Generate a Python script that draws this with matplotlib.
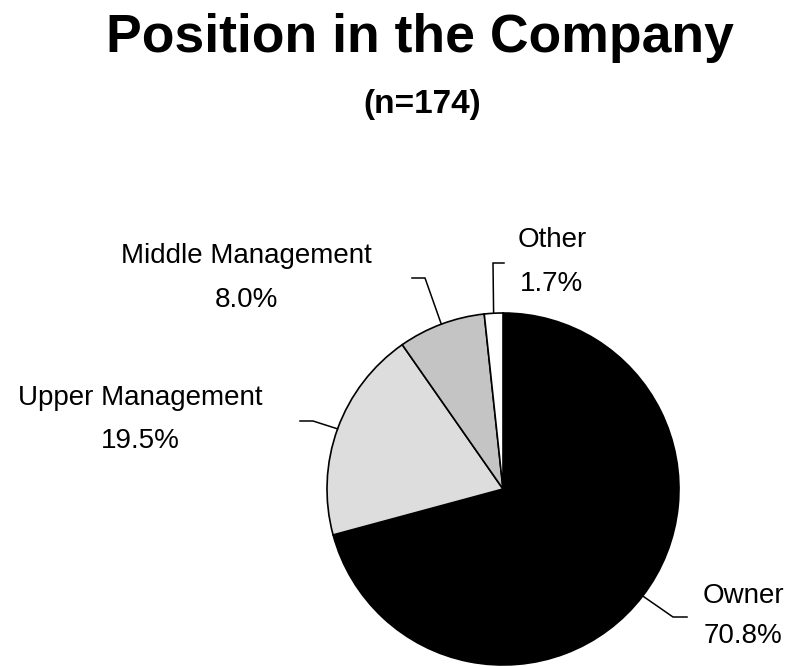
import matplotlib
matplotlib.use("Agg")
import matplotlib.pyplot as plt
import numpy as np

plt.rcParams['font.family'] = ['Liberation Sans', 'DejaVu Sans']

labels = ['Owner', 'Upper Management', 'Middle Management', 'Other']
values = [70.8, 19.5, 8.0, 1.7]
colors = ['#000000', '#dddddd', '#c4c4c4', '#ffffff']

W, H = 793, 666
fig = plt.figure(figsize=(W / 100, H / 100), dpi=100)
ax = fig.add_axes([0, 0, 1, 1])
ax.set_xlim(0, W)
ax.set_ylim(0, H)
ax.set_aspect('equal')
ax.axis('off')


def py(y):
    # pixel row -> data y
    return H - y


cx, cy, r = 503, 489, 176
wedges, _ = ax.pie(values, colors=colors, startangle=90, counterclock=False,
                   center=(cx, py(cy)), radius=r,
                   wedgeprops=dict(edgecolor='black', linewidth=1.2))
ax.set_xlim(0, W)
ax.set_ylim(0, H)

# label layout: elbow point, end of horizontal stub, text centre x, baselines
layout = {
    'Owner': ((673, 617), (687, 617), 743, (603, 643)),
    'Upper Management': ((313, 421), (300, 421), 140, (405, 448)),
    'Middle Management': ((425, 278), (412, 278), 246, (263, 307)),
    'Other': ((493, 263), (504, 263), 552, (247, 291)),
}

for w, lab, val in zip(wedges, labels, values):
    ang = np.deg2rad((w.theta1 + w.theta2) / 2)
    sx = cx + r * np.cos(ang)
    sy = py(cy) + r * np.sin(ang)
    (ex, ey), (hx, hy), tx, (b1, b2) = layout[lab]
    ax.plot([sx, ex, hx], [sy, py(ey), py(hy)], color='black', lw=1.1,
            solid_joinstyle='miter')
    ax.text(tx, py(b1), lab, ha='center', va='baseline', fontsize=20)
    ax.text(tx, py(b2), f'{val:.1f}%', ha='center', va='baseline', fontsize=20)

ax.text(420, py(52), 'Position in the Company', ha='center', va='baseline',
        fontsize=38.5, fontweight='bold')
ax.text(422, py(113), '(n=174)', ha='center', va='baseline',
        fontsize=24, fontweight='bold')

fig.savefig('out.png', dpi=100)
